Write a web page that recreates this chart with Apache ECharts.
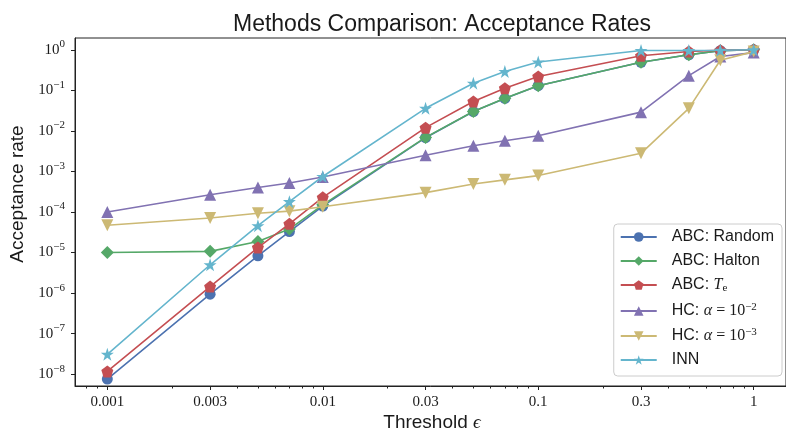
<!DOCTYPE html>
<html>
<head>
<meta charset="utf-8">
<script src="https://cdn.jsdelivr.net/npm/echarts@6/dist/echarts.min.js"></script>
<style>
  html, body { margin: 0; padding: 0; background: #ffffff; }
  #chart { width: 786px; height: 433px; }
</style>
</head>
<body>
<div id="chart"></div>
<script>
// Threshold values (x) and acceptance rates per method (y), both on log scales.
const thresholds = [0.001, 0.003, 0.005, 0.007, 0.01, 0.03, 0.05, 0.07, 0.1, 0.3, 0.5, 0.7, 1];

const abcRandom = [7.6e-9, 9.4e-7, 8.3e-6, 3.3e-5, 1.4e-4, 6.8e-3, 0.030, 0.063, 0.13, 0.49, 0.75, 0.95, 1.0];
const abcHalton = [1.0e-5, 1.07e-5, 1.87e-5, 3.8e-5, 1.5e-4, 6.9e-3, 0.030, 0.064, 0.13, 0.49, 0.75, 0.95, 1.0];
const abcTe     = [1.17e-8, 1.45e-6, 1.33e-5, 5.1e-5, 2.3e-4, 1.2e-2, 0.053, 0.113, 0.22, 0.71, 0.91, 0.97, 1.0];
const hcAlpha2  = [1.0e-4, 2.65e-4, 4.0e-4, 5.2e-4, 7.3e-4, 2.5e-3, 4.3e-3, 5.7e-3, 7.6e-3, 0.029, 0.23, 0.68, 0.85];
const hcAlpha3  = [4.7e-5, 7.1e-5, 9.3e-5, 1.05e-4, 1.35e-4, 3.0e-4, 4.9e-4, 6.2e-4, 7.9e-4, 2.8e-3, 0.036, 0.55, 0.9];
const innRates  = [3.1e-8, 5.0e-6, 4.6e-5, 1.8e-4, 7.5e-4, 3.6e-2, 0.15, 0.29, 0.50, 0.96, 0.96, 0.97, 1.0];

// Axis ticks
const xTickValues = [0.001, 0.003, 0.01, 0.03, 0.1, 0.3, 1];
const xTickLabels = ['0.001', '0.003', '0.01', '0.03', '0.1', '0.3', '1'];
const xMinorTicks = [0.0008, 0.0009, 0.002, 0.004, 0.005, 0.006, 0.007, 0.008, 0.009,
                     0.02, 0.04, 0.05, 0.06, 0.07, 0.08, 0.09,
                     0.2, 0.4, 0.5, 0.6, 0.7, 0.8, 0.9];
const yTickExponents = [-8, -7, -6, -5, -4, -3, -2, -1, 0];

const seriesNames = ['ABC: Random', 'ABC: Halton', 'ABC: Te', 'HC: alpha 1e-2', 'HC: alpha 1e-3', 'INN'];
const seriesValues = [abcRandom, abcHalton, abcTe, hcAlpha2, hcAlpha3, innRates];
const colors = ['#4C72B0', '#55A868', '#C44E52', '#8172B2', '#CCB974', '#64B5CD'];

// Legend labels rendered with rich text (math parts in serif)
const legendRich = {
  'ABC: Random': '{sp|}{t|ABC: Random}',
  'ABC: Halton': '{sp|}{t|ABC: Halton}',
  'ABC: Te': '{sp|}{t|ABC: }{m|T}{sub|e}',
  'HC: alpha 1e-2': '{sp|}{t|HC: }{m|α}{r| = 10}{sup|−2}',
  'HC: alpha 1e-3': '{sp|}{t|HC: }{m|α}{r| = 10}{sup|−3}',
  'INN': '{sp|}{t|INN}'
};

// Marker shapes
const SYM_PENTAGON = 'path://M0,-1 L0.951,-0.309 L0.588,0.809 L-0.588,0.809 L-0.951,-0.309 Z';
const SYM_TRI_DOWN = 'path://M-1,-1 L1,-1 L0,1 Z';
const SYM_TRI_UP = 'path://M0,-1 L1,1 L-1,1 Z';
const SYM_STAR = 'path://M0,-1 L0.2245,-0.309 L0.951,-0.309 L0.363,0.118 L0.588,0.809 L0,0.382 L-0.588,0.809 L-0.363,0.118 L-0.951,-0.309 L-0.2245,-0.309 Z';
const symbols = ['circle', 'diamond', SYM_PENTAGON, SYM_TRI_UP, SYM_TRI_DOWN, SYM_STAR];
const symbolSizes = [11, 13, 12, 12, 12, 13];

const SANS = "'Liberation Sans', Arial, sans-serif";
const SERIF = "'Liberation Serif', 'Times New Roman', serif";
const INK = '#1a1a1a';

const log10 = Math.log10;
const X_MIN = -3.15, X_MAX = 0.15;
const Y_MIN = -8.29, Y_MAX = 0.29;

function xLabel(v) {
  let best = 0, bd = Infinity;
  xTickValues.forEach((t, i) => { const d = Math.abs(log10(t) - v); if (d < bd) { bd = d; best = i; } });
  return xTickLabels[best];
}

const series = seriesValues.map((vals, i) => ({
  name: seriesNames[i],
  type: 'line',
  xAxisIndex: 0,
  data: thresholds.map((t, j) => [log10(t), log10(vals[j])]),
  symbol: symbols[i],
  symbolSize: symbolSizes[i],
  showAllSymbol: true,
  lineStyle: { color: colors[i], width: 1.6 },
  itemStyle: { color: colors[i], borderWidth: 0 },
  emphasis: { disabled: true },
  animation: false,
  z: 2 + i
}));

const chart = echarts.init(document.getElementById('chart'), null, { renderer: 'canvas' });

chart.setOption({
  backgroundColor: '#ffffff',
  animation: false,
  title: {
    text: 'Methods Comparison: Acceptance Rates',
    left: 437,
    top: 8,
    textAlign: 'center',
    textStyle: { fontFamily: SANS, fontSize: 23, fontWeight: 'normal', color: INK }
  },
  grid: {
    left: 75, right: -4, top: 38, bottom: 47,
    show: true, borderColor: '#222', borderWidth: 1, backgroundColor: 'transparent',
    containLabel: false
  },
  xAxis: [
    {
      type: 'value', min: X_MIN, max: X_MAX, position: 'bottom',
      axisLine: { show: true, onZero: false, lineStyle: { color: '#222', width: 1 } },
      axisTick: {
        show: true, inside: false, length: 4,
        customValues: xTickValues.map(log10),
        lineStyle: { color: '#222', width: 1 }
      },
      axisLabel: {
        show: true, margin: 9,
        customValues: xTickValues.map(log10),
        formatter: xLabel,
        fontFamily: SERIF, fontSize: 15, color: INK
      },
      splitLine: { show: false }
    },
    {
      type: 'value', min: X_MIN, max: X_MAX, position: 'bottom',
      axisLine: { show: false, onZero: false },
      axisTick: {
        show: true, inside: false, length: 2.5,
        customValues: xMinorTicks.map(log10),
        lineStyle: { color: '#222', width: 1 }
      },
      axisLabel: { show: false },
      splitLine: { show: false }
    }
  ],
  yAxis: {
    type: 'value', min: Y_MIN, max: Y_MAX, position: 'left',
    axisLine: { show: true, onZero: false, lineStyle: { color: '#222', width: 1 } },
    axisTick: {
      show: true, inside: false, length: 4,
      customValues: yTickExponents,
      lineStyle: { color: '#222', width: 1 }
    },
    axisLabel: {
      show: true, margin: 10,
      customValues: yTickExponents,
      formatter: v => '{b|10}{s|' + (Math.round(v) < 0 ? '−' + Math.abs(Math.round(v)) : String(Math.round(v))) + '}',
      rich: {
        b: { fontFamily: SERIF, fontSize: 15, color: INK, lineHeight: 22, verticalAlign: 'middle' },
        s: { fontFamily: SERIF, fontSize: 11, color: INK, lineHeight: 11, verticalAlign: 'top' }
      }
    },
    splitLine: { show: false }
  },
  legend: {
    orient: 'vertical',
    right: 4, top: 224,
    itemWidth: 36, itemHeight: 12, itemGap: 8,
    padding: [5, 8, 8, 6],
    backgroundColor: 'rgba(255,255,255,0.8)',
    borderColor: '#cccccc', borderWidth: 1, borderRadius: 4,
    selectedMode: false,
    data: seriesNames,
    formatter: name => legendRich[name],
    textStyle: {
      color: INK,
      rich: {
        sp: { width: 10, lineHeight: 18 },
        t: { fontFamily: SANS, fontSize: 16, color: INK, lineHeight: 18 },
        m: { fontFamily: SERIF, fontStyle: 'italic', fontSize: 16, color: INK, lineHeight: 18 },
        r: { fontFamily: SERIF, fontSize: 16, color: INK, lineHeight: 18 },
        sup: { fontFamily: SERIF, fontSize: 11, color: INK, lineHeight: 11, verticalAlign: 'top' },
        sub: { fontFamily: SERIF, fontSize: 11, color: INK, lineHeight: 11, verticalAlign: 'bottom' }
      }
    }
  },
  graphic: [
    {
      type: 'text', x: 432, y: 423, z: 10,
      style: {
        text: '{t|Threshold }{e|ϵ}',
        rich: {
          t: { fontFamily: SANS, fontSize: 19, fill: INK },
          e: { fontFamily: SERIF, fontStyle: 'italic', fontSize: 19, fill: INK }
        },
        align: 'center', verticalAlign: 'middle'
      }
    },
    {
      type: 'text', x: 18, y: 194, rotation: Math.PI / 2, z: 10,
      style: {
        text: 'Acceptance rate',
        fontFamily: SANS, fontSize: 19, fill: INK,
        align: 'center', verticalAlign: 'middle'
      }
    }
  ],
  series: series
});
</script>
</body>
</html>
